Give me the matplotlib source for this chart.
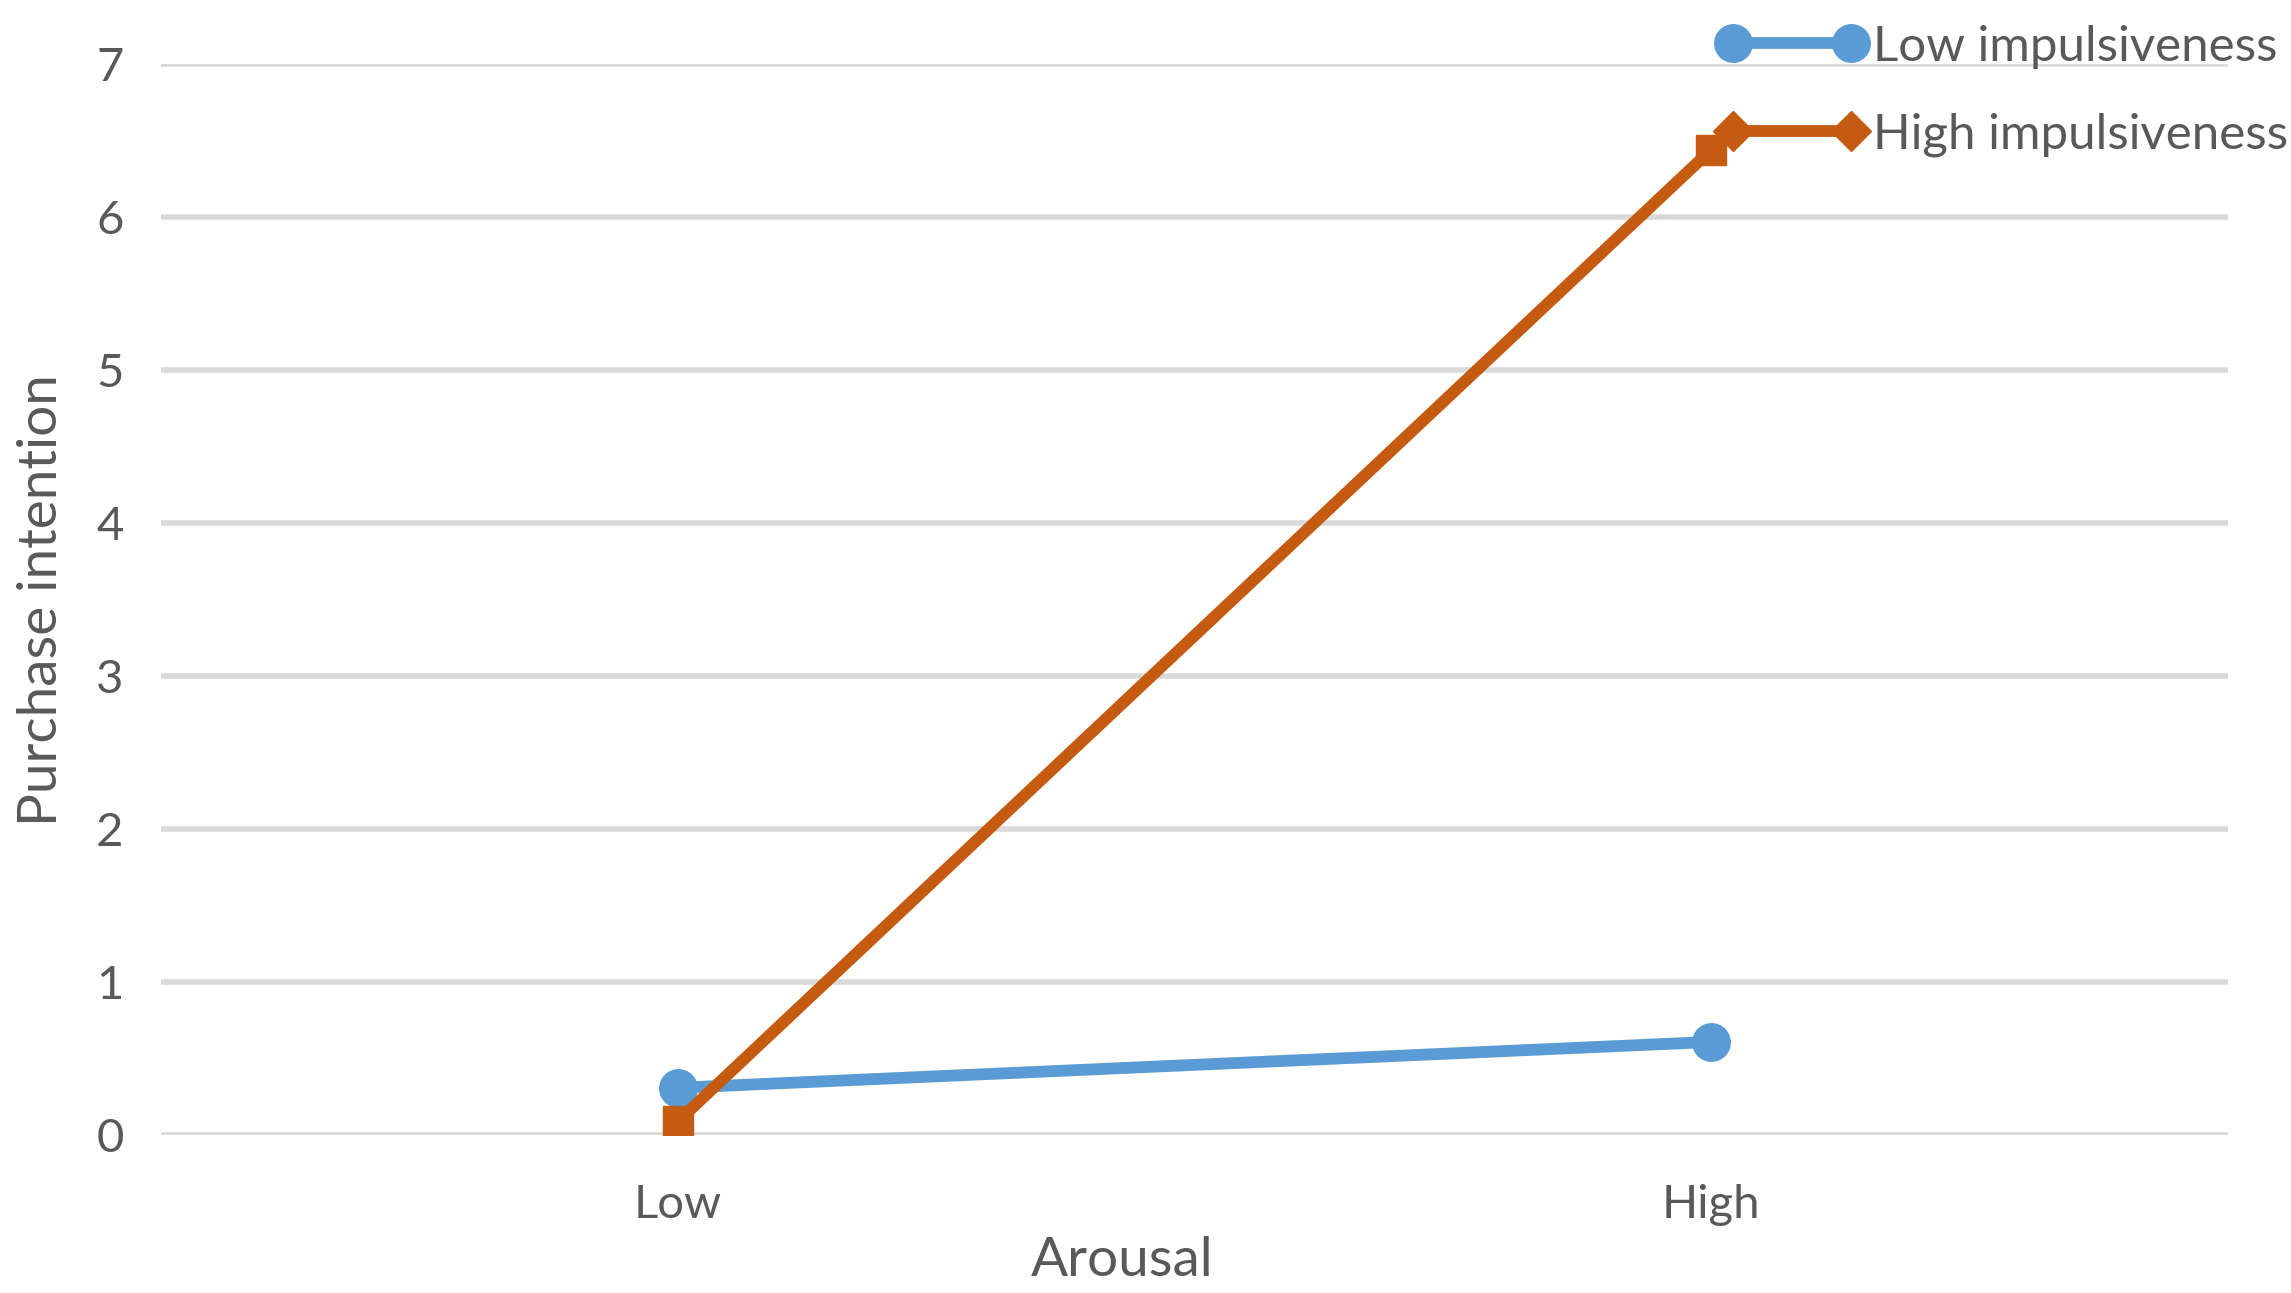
import matplotlib.pyplot as plt
from matplotlib.lines import Line2D

plt.rcParams['font.family'] = ['Lato', 'DejaVu Sans']

# data
categories = ['Low', 'High']
low_impulsiveness = [0.31, 0.61]
high_impulsiveness = [0.09, 6.44]
y_ticks = [0, 1, 2, 3, 4, 5, 6, 7]

blue = '#5B9BD5'
orange = '#C55A11'
text_col = '#595959'

fig = plt.figure(figsize=(22.91, 12.93), dpi=100)
ax = fig.add_axes([0.0703, 0.122, 0.9022, 0.8285])

x = list(range(len(categories)))
ax.plot(x, low_impulsiveness, color=blue, lw=8.5, marker='o', markersize=27,
        zorder=3)
ax.plot(x, high_impulsiveness, color=orange, lw=8.5, marker='s', markersize=21,
        zorder=4)

ax.set_xlim(-0.5, 1.5)
ax.set_ylim(0, 7)
ax.set_xticks(x)
ax.set_xticklabels(categories)
ax.set_yticks(y_ticks)
ax.tick_params(length=0, labelsize=34, colors=text_col)
ax.tick_params(axis='y', pad=27)
ax.tick_params(axis='x', pad=35)
ax.grid(axis='y', color='#D9D9D9', lw=4)
ax.set_axisbelow(True)
for s in ax.spines.values():
    s.set_visible(False)

ax.set_xlabel('Arousal', fontsize=39.5, color=text_col)
ax.xaxis.set_label_coords(0.465, -0.094)
ax.set_ylabel('Purchase intention', fontsize=39.5, color=text_col, va='center')
ax.yaxis.set_label_coords(-0.058, 0.5)

handles = [
    Line2D([], [], color=blue, lw=8.5, marker='o', markersize=27),
    Line2D([], [], color=orange, lw=8.5, marker='D', markersize=20),
]
leg = fig.legend(handles, ['Low impulsiveness', 'High impulsiveness'],
                 loc='upper left', bbox_to_anchor=(0.750, 0.981),
                 frameon=False, fontsize=35.5, numpoints=2, handlelength=2.99,
                 handletextpad=0.15, labelspacing=0.89, borderpad=0,
                 borderaxespad=0)
for t in leg.get_texts():
    t.set_color(text_col)

fig.savefig('out.png', dpi=100)
